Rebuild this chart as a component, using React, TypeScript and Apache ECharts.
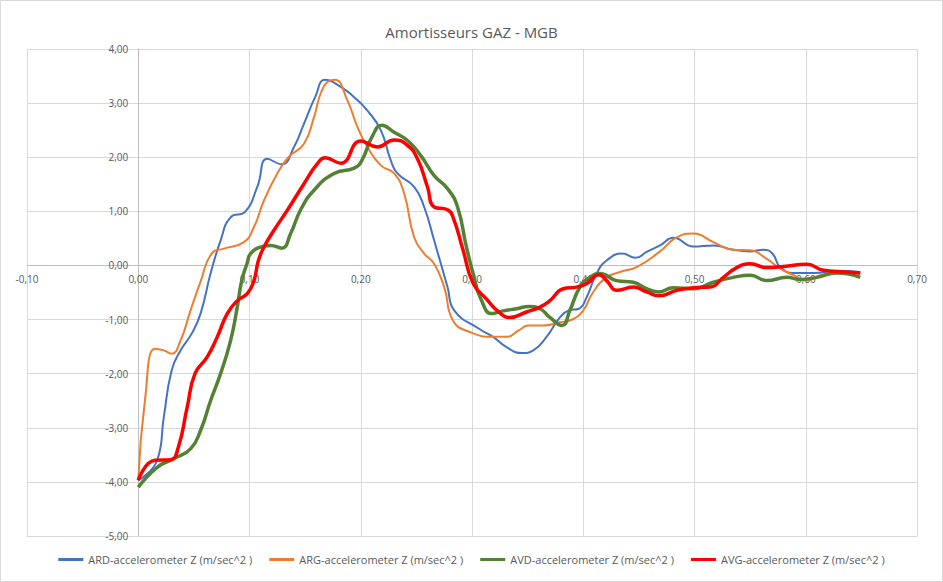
import React, { useEffect, useRef } from "react";
import * as echarts from "echarts";

const title = "Amortisseurs GAZ - MGB";
const seriesNames = [
  "ARD-accelerometer Z (m/sec^2 )",
  "ARG-accelerometer Z (m/sec^2 )",
  "AVD-accelerometer Z (m/sec^2 )",
  "AVG-accelerometer Z (m/sec^2 )",
];
const seriesColors = ["#4472C4", "#ED7D31", "#548235", "#FF0000"];
const seriesWidths = [2, 2, 3.5, 3.5];

const xMin = -0.1;
const xMax = 0.7;
const yMin = -5;
const yMax = 4;

const ardX = [0, 0.017, 0.023, 0.03, 0.038, 0.048, 0.056, 0.065, 0.074, 0.083, 0.096, 0.107, 0.116, 0.129, 0.14, 0.149, 0.159, 0.168, 0.182, 0.194, 0.206, 0.218, 0.227, 0.233, 0.248, 0.257, 0.266, 0.278, 0.284, 0.307, 0.319, 0.331, 0.345, 0.355, 0.367, 0.379, 0.387, 0.396, 0.403, 0.412, 0.421, 0.435, 0.447, 0.457, 0.469, 0.481, 0.499, 0.517, 0.535, 0.55, 0.562, 0.57, 0.577, 0.589, 0.607, 0.628, 0.649];
const ardY = [-3.97, -3.6, -2.8, -1.94, -1.57, -1.26, -0.89, -0.15, 0.46, 0.89, 0.99, 1.45, 1.97, 1.87, 2.19, 2.62, 3.11, 3.43, 3.3, 3.11, 2.86, 2.5, 1.94, 1.7, 1.45, 1.08, 0.46, -0.4, -0.83, -1.18, -1.32, -1.51, -1.62, -1.57, -1.32, -0.96, -0.83, -0.8, -0.59, -0.15, 0.09, 0.22, 0.14, 0.25, 0.37, 0.51, 0.35, 0.37, 0.29, 0.26, 0.29, 0.22, -0.03, -0.14, -0.14, -0.1, -0.12];

const argX = [0, 0.006, 0.015, 0.023, 0.03, 0.038, 0.047, 0.056, 0.066, 0.077, 0.095, 0.104, 0.113, 0.125, 0.135, 0.149, 0.158, 0.165, 0.173, 0.177, 0.188, 0.197, 0.206, 0.218, 0.23, 0.239, 0.248, 0.257, 0.266, 0.275, 0.283, 0.298, 0.319, 0.331, 0.342, 0.351, 0.364, 0.379, 0.391, 0.4, 0.409, 0.421, 0.433, 0.448, 0.469, 0.484, 0.499, 0.517, 0.535, 0.55, 0.565, 0.577, 0.589, 0.601, 0.613, 0.63, 0.649];
const argY = [-3.97, -2.5, -1.54, -1.57, -1.63, -1.39, -0.83, -0.3, 0.22, 0.31, 0.43, 0.71, 1.2, 1.7, 2.0, 2.25, 2.74, 3.23, 3.42, 3.43, 3.05, 2.56, 2.19, 1.85, 1.7, 1.33, 0.52, 0.22, 0.03, -0.4, -1.02, -1.23, -1.32, -1.32, -1.2, -1.11, -1.11, -1.05, -0.99, -0.83, -0.49, -0.22, -0.12, -0.03, 0.26, 0.52, 0.59, 0.43, 0.29, 0.28, 0.12, -0.06, -0.18, -0.28, -0.18, -0.12, -0.15];

const avdX = [0, 0.017, 0.032, 0.047, 0.056, 0.065, 0.074, 0.083, 0.089, 0.093, 0.098, 0.101, 0.11, 0.119, 0.129, 0.137, 0.146, 0.158, 0.176, 0.194, 0.201, 0.21, 0.219, 0.23, 0.242, 0.254, 0.266, 0.278, 0.287, 0.295, 0.301, 0.308, 0.318, 0.328, 0.34, 0.351, 0.361, 0.37, 0.381, 0.388, 0.397, 0.406, 0.415, 0.43, 0.445, 0.457, 0.468, 0.481, 0.499, 0.517, 0.535, 0.55, 0.565, 0.583, 0.595, 0.61, 0.628, 0.649];
const avdY = [-4.1, -3.73, -3.57, -3.39, -3.05, -2.5, -2.0, -1.39, -0.77, -0.28, 0.05, 0.22, 0.34, 0.37, 0.32, 0.59, 1.03, 1.39, 1.7, 1.8, 1.94, 2.37, 2.59, 2.46, 2.31, 2.03, 1.66, 1.42, 1.08, 0.34, -0.15, -0.62, -0.89, -0.84, -0.8, -0.76, -0.8, -0.96, -1.11, -0.83, -0.4, -0.22, -0.15, -0.28, -0.31, -0.43, -0.49, -0.41, -0.43, -0.31, -0.22, -0.18, -0.28, -0.22, -0.26, -0.22, -0.14, -0.22];

const avgX = [0, 0.015, 0.029, 0.036, 0.044, 0.051, 0.062, 0.071, 0.08, 0.089, 0.098, 0.104, 0.108, 0.113, 0.122, 0.134, 0.149, 0.161, 0.168, 0.182, 0.2, 0.215, 0.23, 0.242, 0.251, 0.26, 0.266, 0.278, 0.283, 0.292, 0.301, 0.313, 0.324, 0.334, 0.349, 0.361, 0.37, 0.382, 0.394, 0.403, 0.414, 0.421, 0.43, 0.445, 0.457, 0.468, 0.484, 0.499, 0.514, 0.526, 0.538, 0.55, 0.565, 0.58, 0.601, 0.616, 0.634, 0.649];
const avgY = [-3.97, -3.6, -3.59, -3.36, -2.62, -2.0, -1.69, -1.32, -0.89, -0.65, -0.52, -0.28, 0.09, 0.34, 0.65, 1.02, 1.51, 1.88, 1.99, 1.89, 2.3, 2.19, 2.32, 2.22, 1.97, 1.45, 1.08, 1.03, 0.89, 0.28, -0.33, -0.62, -0.86, -0.96, -0.86, -0.77, -0.65, -0.43, -0.4, -0.34, -0.17, -0.28, -0.46, -0.4, -0.49, -0.56, -0.46, -0.41, -0.4, -0.22, -0.04, 0.03, -0.04, -0.02, 0.02, -0.09, -0.12, -0.14];

const xs = [ardX, argX, avdX, avgX];
const ys = [ardY, argY, avdY, avgY];

const fmt = (v: number) => v.toFixed(2).replace(".", ",");

const W = 943;
const H = 582;
const G = { left: 27, right: 26, top: 49, bottom: 46 };

export default function App() {
  const ref = useRef<HTMLDivElement>(null);
  useEffect(() => {
    document.body.style.margin = "0";
    const chart = echarts.init(ref.current!, undefined, { renderer: "svg" });
    const font = "Open Sans";
    const gw = W - G.left - G.right;
    const gh = H - G.top - G.bottom;
    // move axes (with their labels) to the zero crossing of the other axis
    const xOffset = -gh * ((0 - yMin) / (yMax - yMin));
    const yOffset = -gw * ((0 - xMin) / (xMax - xMin));
    chart.setOption({
      animation: false,
      backgroundColor: "#ffffff",
      title: {
        text: title,
        left: "center",
        top: 19,
        textStyle: { fontFamily: font, fontSize: 15, fontWeight: "normal", color: "#595959" },
      },
      legend: {
        bottom: 12,
        left: "center",
        icon: "rect",
        itemWidth: 25,
        itemHeight: 3,
        itemGap: 17,
        textStyle: { fontFamily: font, fontSize: 11, color: "#595959" },
        data: seriesNames,
      },
      grid: { ...G, containLabel: false, outerBoundsMode: "none" },
      xAxis: {
        type: "value",
        min: xMin,
        max: xMax,
        interval: 0.1,
        position: "bottom",
        offset: xOffset,
        axisLine: { onZero: false, lineStyle: { color: "#BFBFBF", width: 1 } },
        axisTick: { show: false },
        axisLabel: { formatter: fmt, fontFamily: font, fontSize: 10, color: "#595959", margin: 9, showMinLabel: true, showMaxLabel: true },
        splitLine: { show: true, lineStyle: { color: "#D9D9D9", width: 1 } },
      },
      yAxis: {
        type: "value",
        min: yMin,
        max: yMax,
        interval: 1,
        position: "left",
        offset: yOffset,
        axisLine: { show: true, onZero: false, lineStyle: { color: "#BFBFBF", width: 1 } },
        axisTick: { show: false },
        axisLabel: { formatter: fmt, fontFamily: font, fontSize: 10, color: "#595959", margin: 10, showMinLabel: true, showMaxLabel: true },
        splitLine: { show: true, lineStyle: { color: "#D9D9D9", width: 1 } },
      },
      series: seriesNames.map((name, i) => ({
        name,
        type: "line",
        smooth: 0.5,
        showSymbol: false,
        symbol: "none",
        color: seriesColors[i],
        lineStyle: { color: seriesColors[i], width: seriesWidths[i] },
        data: xs[i].map((x, j) => [x, ys[i][j]]),
      })),
      graphic: [
        {
          type: "rect",
          shape: { x: 0.5, y: 0.5, width: W - 1, height: H - 1 },
          style: { fill: "none", stroke: "#D9D9D9", lineWidth: 1 },
          silent: true,
        },
      ],
    });
    return () => chart.dispose();
  }, []);
  return <div ref={ref} style={{ width: W, height: H }} />;
}
